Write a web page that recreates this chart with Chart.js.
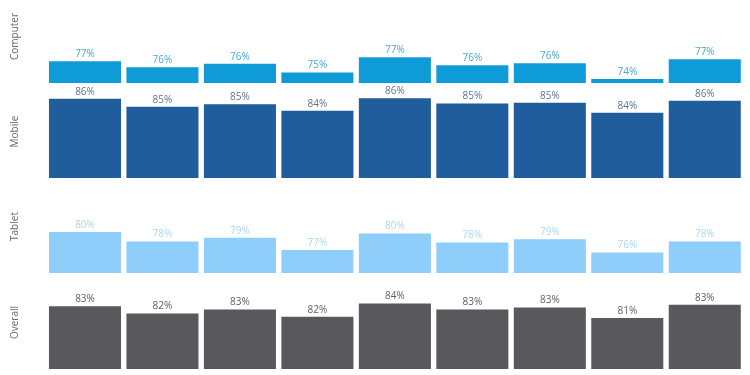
<!DOCTYPE html>
<html>
<head>
<meta charset="utf-8">
<script src="https://cdn.jsdelivr.net/npm/chart.js"></script>
<style>
  html, body { margin: 0; padding: 0; background: #fff; }
  body { width: 750px; height: 375px; position: relative; overflow: hidden; }
  .row { position: absolute; left: 0; width: 750px; }
</style>
</head>
<body>
<div id="rows"></div>
<script>
// one column per period, nine periods
const categories = ['1', '2', '3', '4', '5', '6', '7', '8', '9'];

const rowNames = ['Computer', 'Mobile', 'Tablet', 'Overall'];

const computer = [76.7, 75.8, 76.3, 75.0, 77.3, 76.1, 76.4, 74.0, 77.0];
const mobile   = [86.0, 84.8, 85.2, 84.2, 86.1, 85.3, 85.4, 83.9, 85.7];
const tablet   = [80.2, 78.4, 79.1, 76.8, 79.9, 78.2, 78.8, 76.3, 78.4];
const overall  = [83.2, 82.1, 82.7, 81.6, 83.6, 82.7, 83.0, 81.4, 83.4];

// each pane has its own (hidden) value axis
const axisMin = [73.4, 74.0, 72.44, 73.67];
const axisMax = [87.5, 88.1, 89.99, 87.77];

const series = [computer, mobile, tablet, overall];
const barColors = ['#0f9bd7', '#1f5d9c', '#8fcdfa', '#59585c'];
const labelColors = ['#4aa9d3', '#5d7594', '#a9d9ef', '#5f5f62'];

const paneBottoms = [83.3, 178.3, 273.3, 368.7];
const paneHeight = 93;

const valueLabels = {
  id: 'valueLabels',
  afterDatasetsDraw(chart) {
    const ctx = chart.ctx;
    const meta = chart.getDatasetMeta(0);
    const ds = chart.data.datasets[0];
    ctx.save();
    ctx.font = '10px "Open Sans", sans-serif';
    ctx.fillStyle = ds.labelColor;
    ctx.textAlign = 'center';
    ctx.textBaseline = 'bottom';
    meta.data.forEach((bar, i) => {
      ctx.fillText(Math.round(ds.data[i]) + '%', bar.x, bar.y - 2);
    });
    ctx.restore();
  }
};

const rows = document.getElementById('rows');

series.forEach((values, r) => {
  const top = paneBottoms[r] - paneHeight - 12;
  const div = document.createElement('div');
  div.className = 'row';
  div.style.top = top + 'px';
  div.style.height = (paneHeight + 12) + 'px';
  const canvas = document.createElement('canvas');
  div.appendChild(canvas);
  rows.appendChild(div);

  new Chart(canvas.getContext('2d'), {
    type: 'bar',
    data: {
      labels: categories,
      datasets: [{
        label: rowNames[r],
        data: values,
        backgroundColor: barColors[r],
        labelColor: labelColors[r],
        borderWidth: 0,
        barPercentage: 1,
        categoryPercentage: 0.93
      }]
    },
    options: {
      responsive: true,
      maintainAspectRatio: false,
      animation: false,
      layout: { padding: { top: 12, right: 6.5, bottom: 0, left: 0 } },
      plugins: {
        legend: { display: false },
        tooltip: { enabled: false }
      },
      scales: {
        x: { display: false },
        y: {
          min: axisMin[r],
          max: axisMax[r],
          grid: { display: false },
          border: { display: false },
          ticks: { display: false },
          title: {
            display: true,
            text: rowNames[r],
            color: '#6b6b6b',
            font: { family: '"Open Sans", sans-serif', size: 10 },
            padding: { top: 9, bottom: 0 }
          },
          afterFit(scale) { scale.width = 46.25; }
        }
      }
    },
    plugins: [valueLabels]
  });
});
</script>
</body>
</html>
